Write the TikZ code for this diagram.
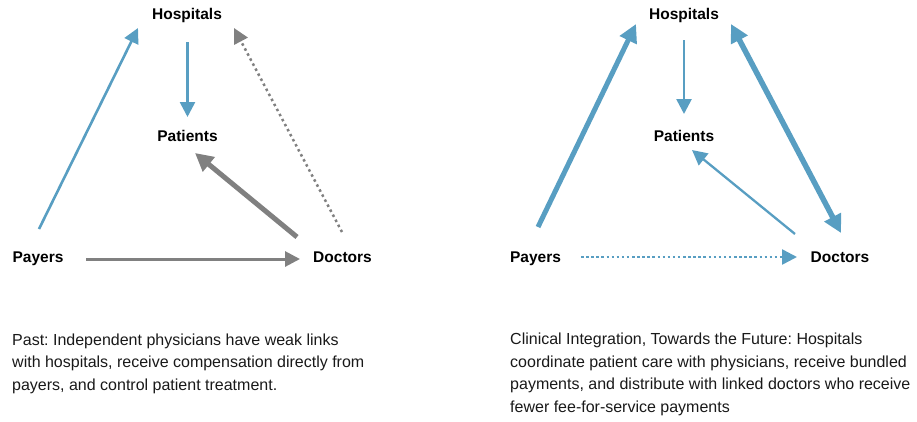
\documentclass[tikz,border=0pt]{standalone}
\usepackage{fontspec}
\setmainfont{Liberation Sans}
\usetikzlibrary{arrows.meta}
\definecolor{linkblue}{RGB}{88,158,194}
\definecolor{linkgrey}{RGB}{128,128,128}
\frenchspacing
\begin{document}
\begin{tikzpicture}[x=1pt,y=-1pt,
  actor/.style={inner sep=0pt,anchor=base,font=\fontsize{15.5}{18}\selectfont\bfseries},
  caption/.style={inner sep=0pt,anchor=base west,font=\fontsize{16}{19}\selectfont,text=black!90},
  thinlink/.style={line width=2.6pt,-{Triangle[length=15pt,width=15pt]}},
  thicklink/.style={line width=5pt,-{Triangle[length=18pt,width=18pt]}},
  bothlink/.style={line width=5.5pt,{Triangle[length=18pt,width=18pt]}-{Triangle[length=18pt,width=18pt]}},
  dotlink/.style={line width=2.5pt,dash pattern=on 2.5pt off 3.2pt,-{Triangle[length=15pt,width=15pt]}},
  midlink/.style={line width=3pt,-{Triangle[length=15pt,width=15pt]}}]
\useasboundingbox (0,0) rectangle (917,421);

% ---- past: independent physicians ----
\node[actor] (hospL) at (187,19.5) {Hospitals};
\node[actor] (patL) at (187.5,141) {Patients};
\node[actor] (payL) at (38,262) {Payers};
\node[actor] (docL) at (342.5,262) {Doctors};

\draw[thinlink,linkblue] ([shift={(1,-33)}]payL.base) -- ([shift={(-49,8.5)}]hospL.base);
\draw[thinlink,linkblue] ([shift={(0.5,22.5)}]hospL.base) -- ([shift={(0,-24)}]patL.base);
\draw[thicklink,linkgrey] ([shift={(-45.5,-25)}]docL.base) -- ([shift={(7.5,12)}]patL.base);
\draw[dotlink,linkgrey] ([shift={(-0.5,-30)}]docL.base) -- ([shift={(47,8.5)}]hospL.base);
\draw[midlink,linkgrey] ([shift={(48,-3)}]payL.base) -- ([shift={(-42.5,-3)}]docL.base);

% ---- future: clinical integration ----
\node[actor] (hospR) at (684,19.5) {Hospitals};
\node[actor] (patR) at (684,141) {Patients};
\node[actor] (payR) at (535.5,262) {Payers};
\node[actor] (docR) at (840,262) {Doctors};

\draw[thicklink,linkblue] ([shift={(2.5,-35)}]payR.base) -- ([shift={(-48,4.5)}]hospR.base);
\draw[thinlink,linkblue] ([shift={(0,20.5)}]hospR.base) -- ([shift={(0,-27)}]patR.base);
\draw[thinlink,linkblue,line width=2.3pt] ([shift={(-45,-28)}]docR.base) -- ([shift={(8,9)}]patR.base);
\draw[bothlink,linkblue] ([shift={(47,4.5)}]hospR.base) -- ([shift={(1,-29)}]docR.base);
\draw[dotlink,linkblue,dash pattern=on 2.5pt off 2.6pt] ([shift={(45.5,-5)}]payR.base) -- ([shift={(-43,-5)}]docR.base);

% ---- captions ----
\node[caption] (capL1) at (12,345) {Past: Independent physicians have weak links};
\node[caption] (capL2) at (12,367.7) {with hospitals, receive compensation directly from};
\node[caption] (capL3) at (12,390.4) {payers, and control patient treatment.};

\node[caption] (capR1) at (510,344.5) {Clinical Integration, Towards the Future: Hospitals};
\node[caption] (capR2) at (510,367.2) {coordinate patient care with physicians, receive bundled};
\node[caption] (capR3) at (510,389.9) {payments, and distribute with linked doctors who receive};
\node[caption] (capR4) at (510,412.6) {fewer fee-for-service payments};
\end{tikzpicture}
\end{document}
